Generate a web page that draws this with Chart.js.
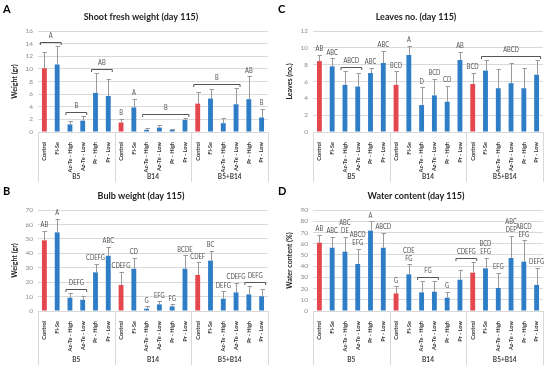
<!DOCTYPE html>
<html>
<head>
<meta charset="utf-8">
<script src="https://cdn.jsdelivr.net/npm/chart.js@4.4.0/dist/chart.umd.min.js"></script>
<style>
  body { margin: 0; background: #fff; }
  #wrap { position: relative; width: 550px; height: 365px; }
  canvas { position: absolute; }
</style>
</head>
<body>
<div id="wrap">
  <canvas id="chartA" width="275" height="182" style="left:0;top:0"></canvas>
  <canvas id="chartC" width="275" height="182" style="left:275px;top:0"></canvas>
  <canvas id="chartB" width="275" height="183" style="left:0;top:182px"></canvas>
  <canvas id="chartD" width="275" height="183" style="left:275px;top:182px"></canvas>
</div>
<script>
// categorias e grupos
const treatments = ["Control", "Fl-Se", "Az-Te - High", "Az-Te - Low", "Pr - High", "Pr - Low"];
const groups = ["B5", "B14", "B5+B14"];

// A - shoot fresh weight (gr)
const shootWeight = [10.1, 10.7, 1.2, 1.8, 6.2, 5.7, 1.5, 3.9, 0.35, 0.7, 0.35, 1.9, 4.5, 5.3, 1.4, 4.4, 5.2, 2.3];
const shootSD = [2.6, 2.9, 0.5, 0.8, 3.1, 2.7, 0.55, 1.3, 0.25, 0.35, 0.2, 0.3, 1.9, 1.5, 0.8, 2.5, 3.6, 1.4];
const shootLetters = ["", "", "", "", "", "", "B", "A", "", "", "", "", "", "", "", "", "AB", "B"];
const shootBrackets = [[0, 1, "A"], [2, 3, "B"], [4, 5, "AB"], [8, 11, "B"], [12, 15, "B"]];

// B - bulb weight (gr)
const bulbWeight = [49, 54.5, 9.2, 7.8, 26.8, 38.3, 18, 29.3, 1.6, 4.6, 3.2, 29.3, 25, 34.9, 8.5, 12.9, 11.5, 10.2];
const bulbSD = [6.7, 9.2, 3.3, 2.4, 6, 6, 9.2, 7.7, 1.6, 2.1, 1.4, 9.3, 8.7, 6.7, 5.1, 6.5, 5.6, 5.3];
const bulbLetters = ["AB", "A", "", "", "CDEFG", "ABC", "CDEFG", "CD", "G", "EFG", "FG", "BCDE", "CDEF", "BC", "DEFG", "CDEFG", "", ""];
const bulbBrackets = [[2, 3, "DEFG"], [16, 17, "DEFG"]];

// C - leaves no.
const leavesNo = [8.43, 7.8, 5.6, 5.4, 7.0, 8.2, 5.6, 9.15, 3.2, 4.35, 3.6, 8.55, 5.7, 7.3, 5.2, 5.8, 5.2, 6.8];
const leavesSD = [0.77, 0.95, 1.6, 1.6, 0.6, 1.45, 1.6, 1.05, 2.1, 1.95, 1.9, 0.95, 1.35, 1.25, 2.25, 2.35, 2.4, 1.8];
const leavesLetters = ["AB", "ABC", "", "", "ABC", "ABC", "BCD", "A", "D", "BCD", "CD", "AB", "BCD", "", "", "", "", ""];
const leavesBrackets = [[2, 3, "ABCD"], [13, 17, "ABCD"]];

// D - water content (%)
const waterContent = [60.9, 56.4, 52.9, 41.9, 71.6, 56.4, 15.7, 32.7, 16.6, 17.2, 11.9, 27.9, 34.2, 38, 20.5, 47.2, 44, 23.2];
const waterSD = [6.8, 9.8, 13.3, 13.6, 8.3, 13.4, 6.3, 8.9, 10.1, 9.5, 5.3, 8.9, 9.8, 9.5, 13.4, 19.9, 19, 15.4];
const waterLetters = ["AB", "ABC", "ABC\nDE", "ABCD\nEFG", "A", "ABCD", "G", "CDE\nFG", "", "", "G", "", "", "BCD\nEFG", "EFG", "ABC\nDEF", "ABCD\nEFG", "DEFG"];
const waterBrackets = [[8, 9, "FG"], [11, 12, "CDEFG"]];

const labels = groups.flatMap(() => treatments);
const barColors = labels.map(l => l === "Control" ? "#E5474E" : "#2E7DC6");
const FONT = "Lato";

// texto um pouco condensado (parecido com Calibri)
function narrowText(ctx, txt, x, y, sx) {
    ctx.save();
    ctx.translate(x, y);
    ctx.scale(sx, 1);
    ctx.fillText(txt, 0, 0);
    ctx.restore();
}

// desenha barras de erro, letras, chaves, grupos e títulos
const annotate = {
    id: "annotate",
    afterDatasetsDraw(chart, args, o) {
        const ctx = chart.ctx, xs = chart.scales.x, ys = chart.scales.y;
        const vals = chart.data.datasets[0].data;
        const tops = vals.map((v, i) => ys.getPixelForValue(v + o.sd[i]));
        ctx.save();
        ctx.strokeStyle = "#9a9a9a";
        ctx.lineWidth = 1;
        vals.forEach((v, i) => {
            const px = Math.round(xs.getPixelForValue(i)) + 0.5;
            const t = Math.round(tops[i]) + 0.5;
            ctx.beginPath();
            ctx.moveTo(px, ys.getPixelForValue(v));
            ctx.lineTo(px, t);
            ctx.moveTo(px - 2, t);
            ctx.lineTo(px + 2.5, t);
            ctx.stroke();
        });

        ctx.fillStyle = "#505050";
        ctx.font = "7px " + FONT;
        ctx.textAlign = "center";
        ctx.textBaseline = "middle";
        const writeLines = (txt, x, yBottom) => {
            const lines = txt.split("\n");
            lines.forEach((ln, k) => narrowText(ctx, ln, x, yBottom - (lines.length - 1 - k) * 7.8, 0.82));
        };
        o.letters.forEach((l, i) => {
            if (l) writeLines(l, xs.getPixelForValue(i), tops[i] - 6);
        });

        ctx.strokeStyle = "#555";
        o.brackets.forEach(([s, e, txt]) => {
            const y = Math.round(Math.min(...tops.slice(s, e + 1)) - 4) + 0.5;
            const x0 = xs.getPixelForValue(s) - 4, x1 = xs.getPixelForValue(e) + 4;
            ctx.beginPath();
            ctx.moveTo(x0, y + 2.5);
            ctx.lineTo(x0, y);
            ctx.lineTo(x1, y);
            ctx.lineTo(x1, y + 2.5);
            ctx.stroke();
            writeLines(txt, (x0 + x1) / 2, y - 6.5);
        });
        ctx.restore();
    },
    afterDraw(chart, args, o) {
        const ctx = chart.ctx, xs = chart.scales.x, area = chart.chartArea;
        const H = chart.height;
        const w = xs.getPixelForValue(1) - xs.getPixelForValue(0);
        ctx.save();
        ctx.strokeStyle = "#d9d9d9";
        ctx.lineWidth = 1;
        for (let g = 0; g <= groups.length; g++) {
            const bx = Math.round(xs.getPixelForValue(g * 6) - w / 2) + 0.5;
            ctx.beginPath();
            ctx.moveTo(bx, area.bottom);
            ctx.lineTo(bx, H);
            ctx.stroke();
        }
        ctx.fillStyle = "#404040";
        ctx.font = "bold 6.5px " + FONT;
        ctx.textAlign = "center";
        ctx.textBaseline = "middle";
        groups.forEach((g, k) => {
            const cx = (xs.getPixelForValue(k * 6) + xs.getPixelForValue(k * 6 + 5)) / 2;
            ctx.fillText(g, cx, H - 5);
        });

        ctx.fillStyle = "#222";
        ctx.font = "bold 9px " + FONT;
        ctx.fillText(o.title, 141, o.titleY);
        ctx.fillStyle = "#000";
        ctx.font = "bold 11px " + FONT;
        ctx.textAlign = "left";
        ctx.textBaseline = "alphabetic";
        ctx.fillText(o.panel, 3, 13);
        ctx.restore();
    }
};

function makeChart(id, p) {
    const canvas = document.getElementById(id);
    const H = canvas.height;
    const config = {
        type: "bar",
        data: {
            labels: labels,
            datasets: [{
                data: p.values,
                backgroundColor: barColors,
                barPercentage: 0.38,
                categoryPercentage: 1,
            }],
        },
        options: {
            responsive: false,
            animation: false,
            devicePixelRatio: 1,
            layout: { padding: { left: 0, right: 7, top: p.top, bottom: 0 } },
            plugins: {
                legend: { display: false },
                tooltip: { enabled: false },
                annotate: {
                    sd: p.sd, letters: p.letters, brackets: p.brackets,
                    title: p.title, titleY: p.titleY, panel: p.panel,
                },
            },
            scales: {
                x: {
                    grid: { display: false },
                    border: { display: false },
                    ticks: {
                        autoSkip: false,
                        minRotation: 90,
                        maxRotation: 90,
                        padding: 2,
                        color: "#333",
                        font: { family: FONT, size: 5.6, weight: "bold" },
                    },
                    afterFit: s => { s.height = H - p.bottom; },
                },
                y: {
                    min: 0,
                    max: p.max,
                    ticks: {
                        stepSize: p.step,
                        padding: 5,
                        color: "#8c8c8c",
                        font: { family: FONT, size: 6.5 },
                    },
                    grid: { color: "#d9d9d9", drawTicks: false },
                    border: { display: false },
                    title: {
                        display: true,
                        text: p.yTitle,
                        color: "#222",
                        padding: { top: 11, bottom: 0 },
                        font: { family: FONT, size: 7, weight: "bold" },
                    },
                    afterFit: s => { s.width = 38; },
                },
            },
        },
        plugins: [annotate],
    };
    return new Chart(canvas.getContext("2d"), config);
}

makeChart("chartA", {
    values: shootWeight, sd: shootSD, letters: shootLetters, brackets: shootBrackets,
    max: 16, step: 2, yTitle: "Weight (gr)", title: "Shoot fresh weight (day 115)",
    panel: "A", titleY: 17, top: 31, bottom: 132,
});
makeChart("chartC", {
    values: leavesNo, sd: leavesSD, letters: leavesLetters, brackets: leavesBrackets,
    max: 12, step: 2, yTitle: "Leaves (no.)", title: "Leaves no. (day 115)",
    panel: "C", titleY: 17, top: 31, bottom: 132,
});
makeChart("chartB", {
    values: bulbWeight, sd: bulbSD, letters: bulbLetters, brackets: bulbBrackets,
    max: 70, step: 10, yTitle: "Weight (gr)", title: "Bulb weight (day 115)",
    panel: "B", titleY: 14, top: 28, bottom: 129,
});
makeChart("chartD", {
    values: waterContent, sd: waterSD, letters: waterLetters, brackets: waterBrackets,
    max: 90, step: 10, yTitle: "Water content (%)", title: "Water content (day 115)",
    panel: "D", titleY: 14, top: 28, bottom: 129,
});
</script>
</body>
</html>
